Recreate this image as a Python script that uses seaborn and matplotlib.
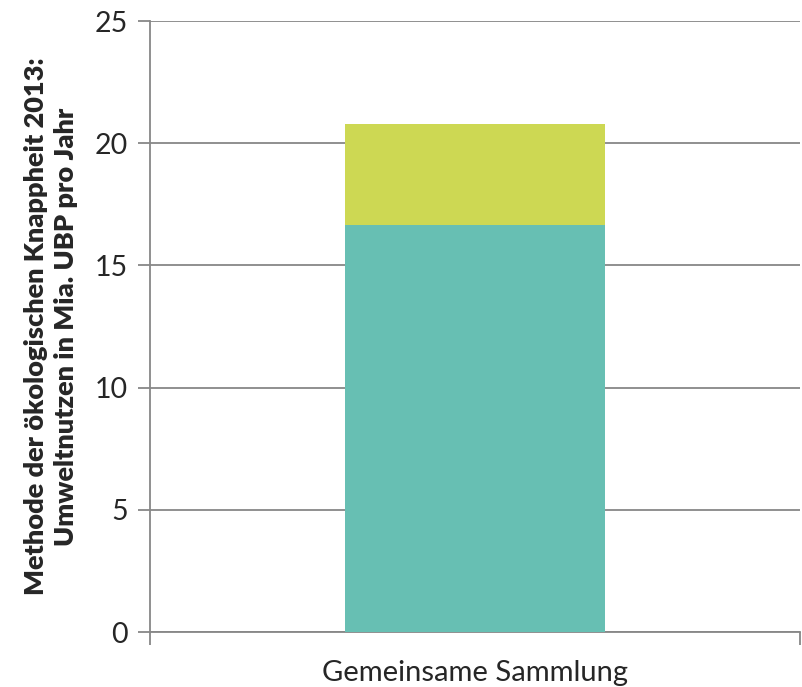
import matplotlib
matplotlib.use("Agg")
import matplotlib.pyplot as plt
import seaborn as sns
import pandas as pd

# Values (billion UBP per year)
categories = ["Gemeinsame Sammlung"]
base_values = [16.65]
top_values = [4.15]
y_ticks = [0, 5, 10, 15, 20, 25]

teal = "#67BFB3"
lime = "#CDD853"
grey = "#878787"

sns.set_theme(style="white")
plt.rcParams["font.family"] = ["Lato", "DejaVu Sans"]

totals = [b + t for b, t in zip(base_values, top_values)]
df = pd.DataFrame({"Kategorie": categories, "Basis": base_values, "Total": totals})

fig = plt.figure(figsize=(8.02, 6.87), dpi=100)
ax = fig.add_axes([0.187, 0.080, 0.8105, 0.8894])

sns.barplot(data=df, x="Kategorie", y="Total", color=lime, width=0.4,
            saturation=1, linewidth=0, edgecolor="none", ax=ax, zorder=3)
sns.barplot(data=df, x="Kategorie", y="Basis", color=teal, width=0.4,
            saturation=1, linewidth=0, edgecolor="none", ax=ax, zorder=3)

ax.set_xlim(-0.5, 0.5)
ax.set_ylim(0, 25)
ax.set_yticks(y_ticks)
ax.set_yticklabels([str(v) for v in y_ticks], fontsize=20.5)
ax.yaxis.grid(True, color=grey, linewidth=1.3, zorder=0)
ax.set_axisbelow(True)

# category boundaries as tick marks, category name centred between them
ax.set_xticks([-0.5, 0.5])
ax.set_xticklabels(["", ""])
ax.set_xticks([0], minor=True)
ax.set_xticklabels(categories, minor=True, fontsize=21)
ax.tick_params(axis="x", which="major", length=9, width=1.3, color=grey, direction="out", bottom=True)
ax.tick_params(axis="x", which="minor", length=0, pad=20)
ax.tick_params(axis="y", length=9, width=1.3, color=grey, direction="out", left=True, pad=7)

for side in ["top", "right"]:
    ax.spines[side].set_visible(False)
for side in ["left", "bottom"]:
    ax.spines[side].set_color(grey)
    ax.spines[side].set_linewidth(1.3)

ax.set_xlabel("")
ax.set_ylabel("Methode der ökologischen Knappheit 2013:\nUmweltnutzen in Mia. UBP pro Jahr",
              fontsize=19.5, fontweight="heavy", linespacing=1.3, labelpad=12)

fig.savefig("out.png", dpi=100)
